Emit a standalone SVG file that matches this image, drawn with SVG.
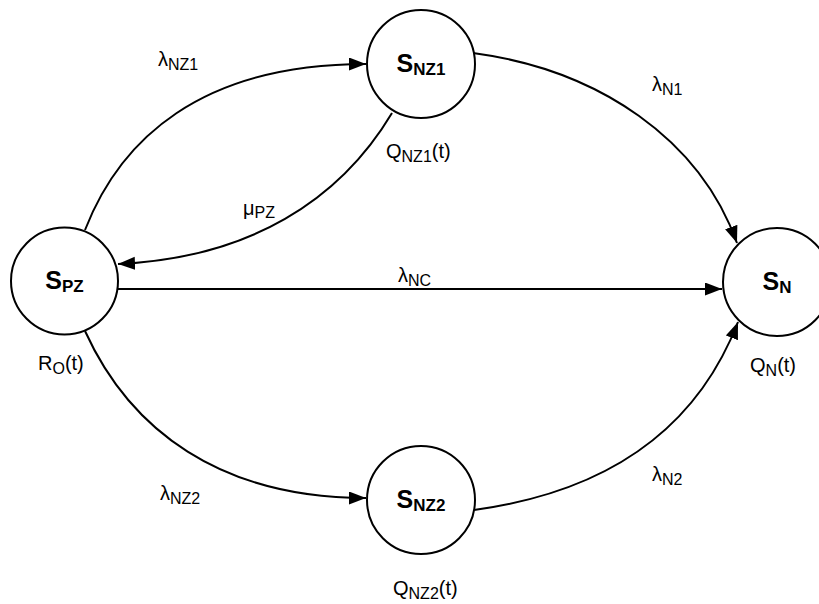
<svg xmlns="http://www.w3.org/2000/svg" width="819" height="604" viewBox="0 0 819 604">
<style>
.node{fill:#fff;stroke:#000;stroke-width:2}
.edge{fill:none;stroke:#000;stroke-width:2}
.nt{font-family:"Liberation Sans",Arial,sans-serif;font-weight:bold;font-size:25px;fill:#000}
.ns{font-size:17px}
.lb{font-family:"Liberation Sans",Arial,sans-serif;font-size:20px;fill:#000}
.ls{font-size:16px}
</style>
<defs>
<marker id="arr" markerUnits="userSpaceOnUse" markerWidth="18" markerHeight="14" refX="17" refY="6.5" orient="auto">
<path d="M0,0 L17,6.5 L0,13 Z" fill="#000"/>
</marker>
</defs>
<rect width="819" height="604" fill="#fff"/>
<g id="connectors">
<path class="edge" d="M85,230 C120,140 200,64 366,64" marker-end="url(#arr)"/>
<path class="edge" d="M473,53 C600,70 700,140 737,243" marker-end="url(#arr)"/>
<path class="edge" d="M392,113 C340,200 250,258 118,264" marker-end="url(#arr)"/>
<path class="edge" d="M118,289 L722,289" marker-end="url(#arr)"/>
<path class="edge" d="M85,331 C130,430 220,498 366,498" marker-end="url(#arr)"/>
<path class="edge" d="M474,510 C620,490 700,420 738,322" marker-end="url(#arr)"/>
</g>
<g id="labels">
<text class="lb" x="158" y="66">λ<tspan class="ls" dy="4">NZ1</tspan></text>
<text class="lb" x="652" y="91">λ<tspan class="ls" dy="4">N1</tspan></text>
<text class="lb" x="243" y="215">μ<tspan class="ls" dy="3">PZ</tspan></text>
<text class="lb" x="398" y="282">λ<tspan class="ls" dy="4">NC</tspan></text>
<text class="lb" x="160" y="500">λ<tspan class="ls" dy="4">NZ2</tspan></text>
<text class="lb" x="652" y="481">λ<tspan class="ls" dy="4">N2</tspan></text>
<text class="lb" x="386" y="158">Q<tspan class="ls" dy="4">NZ1</tspan><tspan dy="-4">(t)</tspan></text>
<text class="lb" x="38" y="370">R<tspan class="ls" dy="4">O</tspan><tspan dy="-4">(t)</tspan></text>
<text class="lb" x="750" y="372">Q<tspan class="ls" dy="4">N</tspan><tspan dy="-4">(t)</tspan></text>
<text class="lb" x="393" y="595">Q<tspan class="ls" dy="4">NZ2</tspan><tspan dy="-4">(t)</tspan></text>
</g>
<g id="S_PZ">
<circle class="node" cx="64.5" cy="281" r="53.5"/>
<text class="nt" x="64.5" y="289" text-anchor="middle">S<tspan class="ns" dy="3">PZ</tspan></text>
</g>
<g id="S_NZ1">
<circle class="node" cx="421" cy="64" r="54"/>
<text class="nt" x="421" y="72" text-anchor="middle">S<tspan class="ns" dy="3">NZ1</tspan></text>
</g>
<g id="S_N">
<circle class="node" cx="777" cy="282" r="54"/>
<text class="nt" x="777" y="290" text-anchor="middle">S<tspan class="ns" dy="3">N</tspan></text>
</g>
<g id="S_NZ2">
<circle class="node" cx="421" cy="500" r="54"/>
<text class="nt" x="421" y="508" text-anchor="middle">S<tspan class="ns" dy="3">NZ2</tspan></text>
</g>
</svg>
